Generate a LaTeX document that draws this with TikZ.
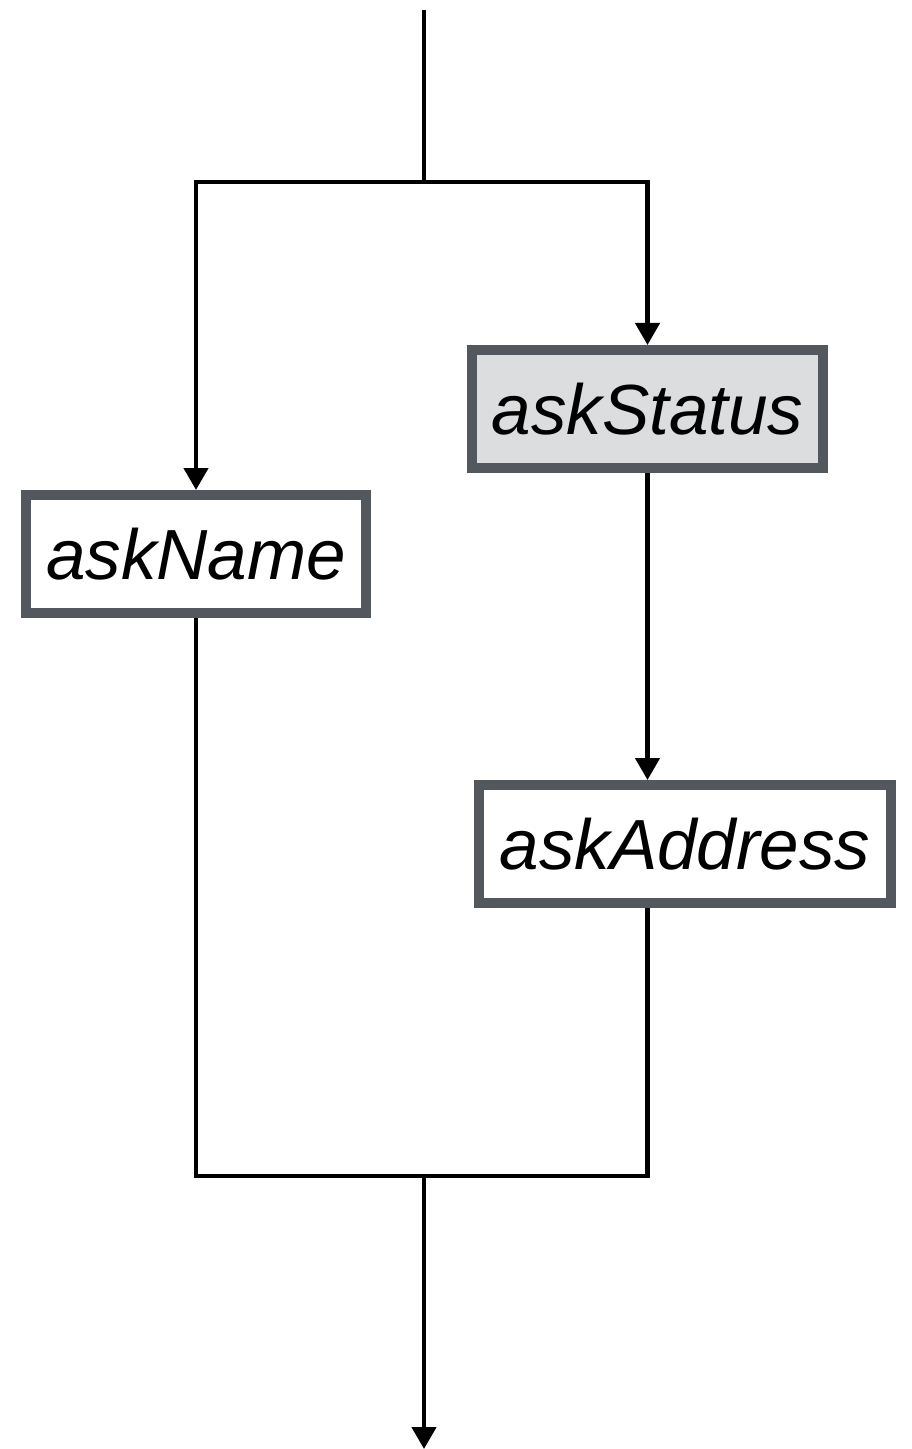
\documentclass[tikz,border=0pt]{standalone}
\usepackage{fontspec}
\setmainfont{Liberation Sans}
\usetikzlibrary{arrows.meta}
\definecolor{boxline}{HTML}{53575E}
\definecolor{boxfill}{HTML}{DCDDDF}
\begin{document}
\begin{tikzpicture}[x=0.5pt,y=-0.5pt]
	\tikzstyle{action} = [rectangle,draw=boxline,line width=5pt,fill=white,minimum height=59pt,inner sep=0pt,font=\fontsize{35.5}{40}\selectfont\itshape]
	\tikzstyle{flow} = [line width=2.25pt,-{Triangle[width=12pt,length=11pt]}]
	\tikzstyle{line} = [line width=2.25pt]
	\useasboundingbox (0,0) rectangle (911,1449);
	% fork and join points
	\coordinate (start) at (424,10);
	\coordinate (fork) at (424,182);
	\coordinate (join) at (424,1176);
	\coordinate (stop) at (424,1449);
	% actions
	\node[action,minimum width=170pt] (askname) at (196,554) {askName};
	\node[action,fill=boxfill,minimum width=175.5pt] (askstatus) at (647.5,409) {askStatus};
	\node[action,minimum width=206pt] (askaddress) at (685,844) {askAddress};
	% branches
	\draw[line] (start) -- (fork);
	\draw[flow] (fork) -| (askname.north);
	\draw[flow] (fork) -| (askstatus.north);
	\draw[flow] (askstatus.south) -- (askstatus.south |- askaddress.north);
	% join
	\draw[line] (askname.south) |- (join);
	\draw[line] (askstatus.south |- askaddress.south) |- (join);
	\draw[flow] (join) -- (stop);
\end{tikzpicture}
\end{document}
